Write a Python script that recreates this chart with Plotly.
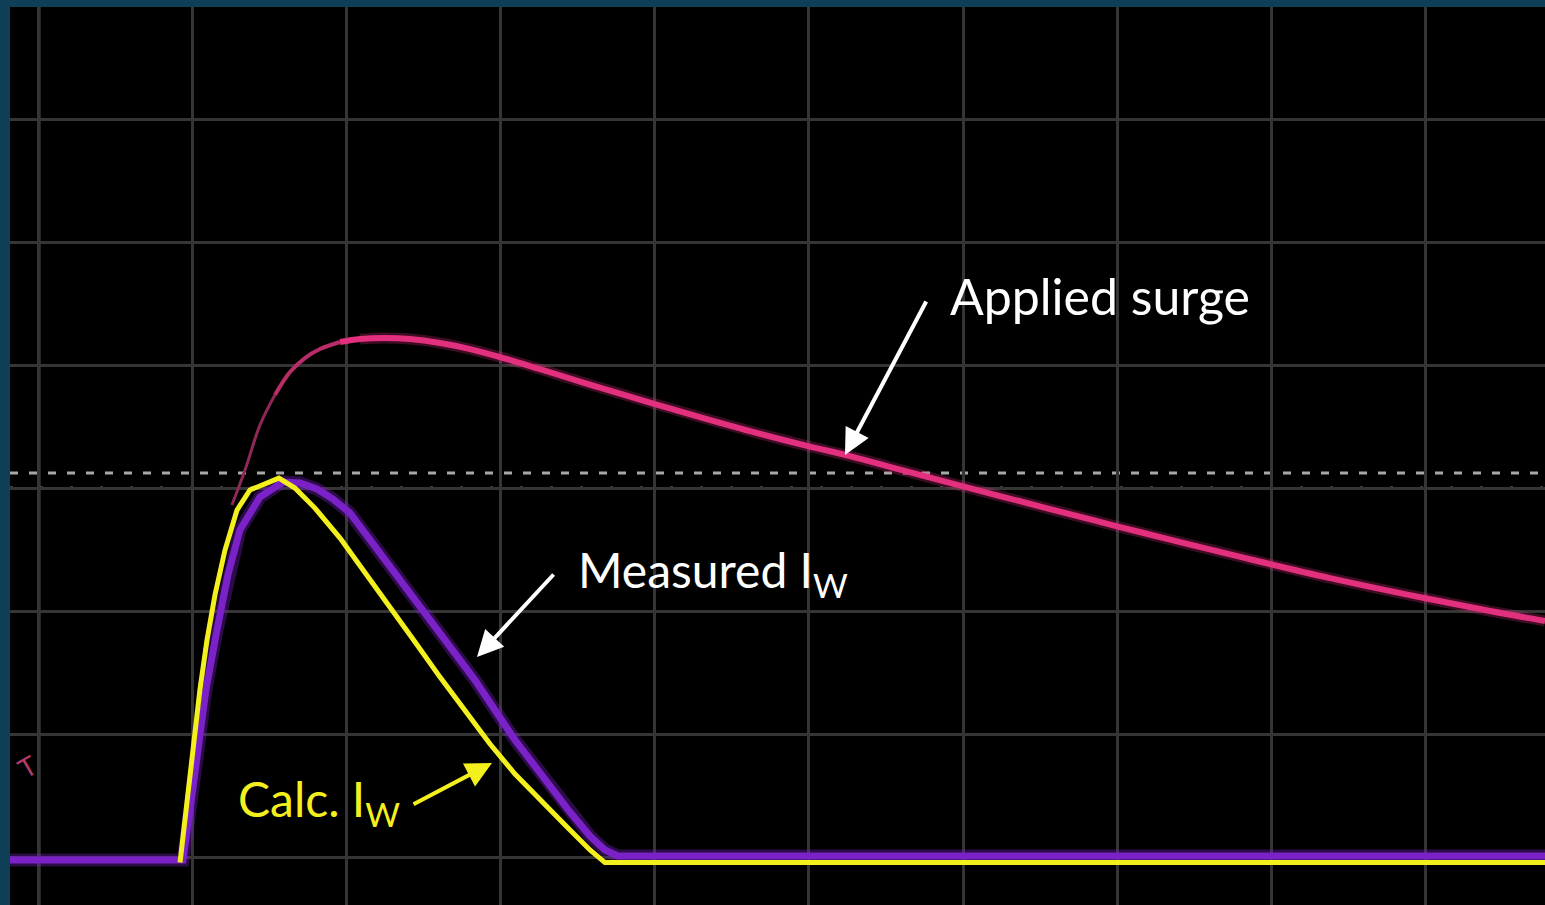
import plotly.graph_objects as go

# Scope traces, in screen divisions (x: time div, y: vertical div from the baseline grid line)
surge_x = [1.253, 1.338, 1.435, 1.532, 1.630, 1.727, 1.825, 1.955, 2.084, 2.247, 2.409,
           2.604, 2.799, 2.994, 3.253, 3.513, 3.773, 4.000, 4.292, 4.617, 4.994, 5.266,
           5.591, 5.994, 6.240, 6.565, 6.994, 7.409, 7.883, 8.383, 8.994, 9.422, 9.779]
surge_y = [2.862, 3.146, 3.512, 3.756, 3.943, 4.057, 4.130, 4.187, 4.211, 4.220, 4.211,
           4.179, 4.130, 4.065, 3.967, 3.866, 3.768, 3.683, 3.577, 3.463, 3.341, 3.260,
           3.150, 3.016, 2.935, 2.829, 2.691, 2.561, 2.415, 2.268, 2.106, 2.000, 1.919]

meas_x = [-0.188, 0.935, 0.981, 1.032, 1.084, 1.156, 1.227, 1.305, 1.435, 1.584, 1.695,
          1.805, 1.909, 2.019, 2.234, 2.558, 2.831, 3.091, 3.286, 3.448, 3.578, 3.675,
          3.760, 9.779]
meas_y = [-0.024, -0.024, 0.382, 0.911, 1.358, 1.846, 2.293, 2.659, 2.927, 3.049, 3.041,
          2.992, 2.911, 2.797, 2.439, 1.902, 1.439, 0.951, 0.626, 0.366, 0.171, 0.057,
          0.008, 0.008]

calc_x = [0.916, 0.955, 1.000, 1.045, 1.091, 1.143, 1.208, 1.286, 1.370, 1.468, 1.558,
          1.662, 1.792, 1.955, 2.117, 2.279, 2.442, 2.604, 2.766, 2.929, 3.091, 3.253,
          3.416, 3.578, 3.675, 3.740, 9.779]
calc_y = [-0.045, 0.382, 0.870, 1.358, 1.764, 2.130, 2.496, 2.821, 2.984, 3.033, 3.081,
          3.000, 2.837, 2.593, 2.317, 2.033, 1.748, 1.463, 1.187, 0.919, 0.675, 0.463,
          0.260, 0.057, -0.045, -0.045, -0.045]

trigger_level = 3.122

W, H = 1545, 905
PINK = "#e2307e"
PURPLE = "#7a22c8"
YELLOW = "#f4f01e"


def px(x):
    return x / W


def py(y):
    return 1 - y / H


fig = go.Figure()

# Applied surge: faint leading edge that brightens into the main trace
fig.add_trace(go.Scatter(x=surge_x[:4], y=surge_y[:4], mode="lines",
                         line=dict(color="#8e2856", width=3, shape="spline"),
                         hoverinfo="skip"))
fig.add_trace(go.Scatter(x=surge_x[3:8], y=surge_y[3:8], mode="lines",
                         line=dict(color="#b82c68", width=4, shape="spline"),
                         hoverinfo="skip"))
fig.add_trace(go.Scatter(x=surge_x[8:], y=surge_y[8:], mode="lines",
                         line=dict(color="rgba(226,48,126,0.28)", width=11, shape="spline"),
                         hoverinfo="skip"))
fig.add_trace(go.Scatter(x=surge_x[7:], y=surge_y[7:], mode="lines",
                         line=dict(color=PINK, width=6, shape="spline"),
                         hoverinfo="skip"))

# Measured current (glow + core)
fig.add_trace(go.Scatter(x=meas_x, y=meas_y, mode="lines",
                         line=dict(color="rgba(122,34,200,0.35)", width=13),
                         hoverinfo="skip"))
fig.add_trace(go.Scatter(x=meas_x, y=meas_y, mode="lines",
                         line=dict(color=PURPLE, width=7),
                         hoverinfo="skip"))

# Calculated current
fig.add_trace(go.Scatter(x=calc_x, y=calc_y, mode="lines",
                         line=dict(color=YELLOW, width=5),
                         hoverinfo="skip"))

shapes = [
    # trigger level (dashed) and the centre graticule dots
    dict(type="line", xref="x domain", yref="y", x0=0, x1=1, y0=trigger_level, y1=trigger_level,
         line=dict(color="#a8a8a8", width=3, dash="8px,11px"), layer="below"),
    dict(type="line", xref="x domain", yref="y", x0=0, x1=1, y0=3, y1=3,
         line=dict(color="#7a7a7a", width=3, dash="3px,27px"), layer="below"),
    # brighter left graticule edge
    dict(type="line", xref="x", yref="y domain", x0=0, x1=0, y0=0, y1=1,
         line=dict(color="#565656", width=3), layer="below"),
]

annotations = [
    dict(text="Applied surge", x=px(948), y=py(296), xref="paper", yref="paper",
         xanchor="left", yanchor="middle", showarrow=False,
         font=dict(family="Lato", size=50, color="white")),
    dict(text="Measured I<sub>W</sub>", x=px(576), y=py(573), xref="paper", yref="paper",
         xanchor="left", yanchor="middle", showarrow=False,
         font=dict(family="Lato", size=48, color="white")),
    dict(text="Calc. I<sub>W</sub>", x=px(236), y=py(802), xref="paper", yref="paper",
         xanchor="left", yanchor="middle", showarrow=False,
         font=dict(family="Lato", size=48, color=YELLOW)),
    dict(text="", x=px(845), y=py(455), xref="paper", yref="paper", ax=82, ay=-155,
         showarrow=True, arrowhead=2, arrowsize=1.3, arrowwidth=4, arrowcolor="white",
         standoff=0),
    dict(text="", x=px(477), y=py(657), xref="paper", yref="paper", ax=78, ay=-84,
         showarrow=True, arrowhead=2, arrowsize=1.3, arrowwidth=4, arrowcolor="white",
         standoff=0),
    dict(text="", x=px(492), y=py(763), xref="paper", yref="paper", ax=-80, ay=42,
         showarrow=True, arrowhead=2, arrowsize=1.3, arrowwidth=4, arrowcolor=YELLOW,
         standoff=0),
    # trigger marker on the left edge
    dict(text="T", x=px(27), y=py(768), xref="paper", yref="paper", showarrow=False,
         xanchor="center", yanchor="middle", textangle=-30,
         font=dict(family="DejaVu Sans", size=26, color="#b03a68")),
]

fig.update_layout(
    width=W, height=H,
    margin=dict(l=0, r=0, t=0, b=0),
    paper_bgcolor="#0f3f57",
    plot_bgcolor="black",
    showlegend=False,
    shapes=shapes,
    annotations=annotations,
    xaxis=dict(domain=[10 / W, 1], range=[-0.188, 9.779], tick0=0, dtick=1,
               showgrid=True, gridcolor="#353535", gridwidth=3,
               zeroline=False, showticklabels=False, ticks="", showline=False,
               fixedrange=True),
    yaxis=dict(domain=[0, 1 - 7 / H], range=[-0.390, 6.911], tick0=0, dtick=1,
               showgrid=True, gridcolor="#353535", gridwidth=3,
               zeroline=False, showticklabels=False, ticks="", showline=False,
               fixedrange=True),
)

fig.write_html("out.html", config={"displayModeBar": False})
